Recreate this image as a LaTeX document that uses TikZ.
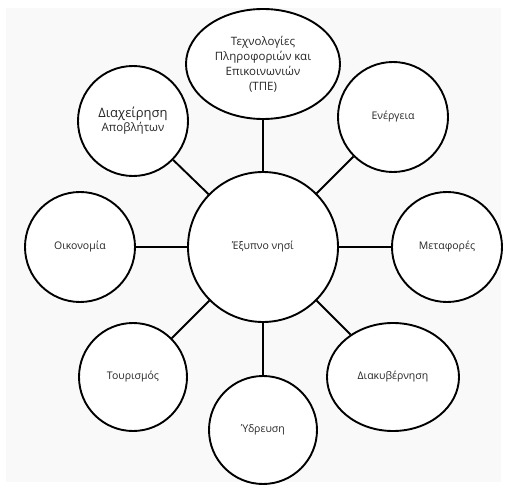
\documentclass[tikz,border=0pt]{standalone}
\usepackage{fontspec}
\setmainfont{Open Sans}
\usetikzlibrary{shapes.geometric}
\definecolor{panel}{HTML}{F9F9F9}
\definecolor{ink}{HTML}{262626}
\begin{document}
\begin{tikzpicture}[x=1pt,y=-1pt,
  topic/.style={draw=black,line width=1.9pt,fill=white,circle,minimum size=110pt,inner sep=0pt,
    text=ink,font=\fontsize{10.5}{15}\selectfont,align=center},
  oval/.style={topic,ellipse},
  link/.style={draw=black,line width=1.9pt}]
  \useasboundingbox (0,0) rectangle (507,487);
  \fill[white] (0,0) rectangle (507,487);
  \fill[panel] (6,8) rectangle (501,482);

  % hub
  \node[topic,minimum size=150pt] (hub) at (263,247) {Έξυπνο νησί};

  % satellites
  \node[oval,minimum width=154pt,minimum height=110pt,
        font=\fontsize{11.5}{15}\selectfont] (ict) at (263,64)
    {Τεχνολογίες\\Πληροφοριών και\\Επικοινωνιών\\(ΤΠΕ)};
  \node[topic] (energy) at (393,117) {Ενέργεια};
  \node[topic] (waste) at (133,121)
    {{\fontsize{13}{15}\selectfont Διαχείρηση}\\[-1pt]{\fontsize{11.5}{14}\selectfont Αποβλήτων}};
  \node[topic] (economy) at (80,247) {Οικονομία};
  \node[topic] (transport) at (447,247) {Μεταφορές};
  \node[topic,minimum size=108pt] (tourism) at (133,377) {Τουρισμός};
  \node[topic,minimum size=108pt] (water) at (263,430) {Ύδρευση};
  \node[oval,minimum width=132pt,minimum height=108pt] (gov) at (393,377) {Διακυβέρνηση};

  % spokes
  \foreach \s in {ict,energy,waste,economy,transport,tourism,water,gov}
    \draw[link] (hub) -- (\s);
\end{tikzpicture}
\end{document}
